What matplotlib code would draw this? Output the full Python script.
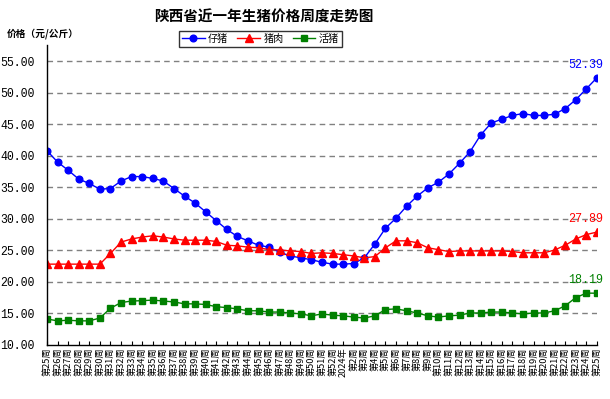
import matplotlib
matplotlib.use("Agg")
import matplotlib.pyplot as plt

plt.rcParams['font.family'] = ['Noto Sans CJK SC', 'DejaVu Sans']

weeks = ["第25周", "第26周", "第27周", "第28周", "第29周", "第30周", "第31周", "第32周",
         "第33周", "第34周", "第35周", "第36周", "第37周", "第38周", "第39周", "第40周",
         "第41周", "第42周", "第43周", "第44周", "第45周", "第46周", "第47周", "第48周",
         "第49周", "第50周", "第51周", "第52周", "2024年", "第2周", "第3周", "第4周",
         "第5周", "第6周", "第7周", "第8周", "第9周", "第10周", "第11周", "第12周",
         "第13周", "第14周", "第15周", "第16周", "第17周", "第18周", "第19周", "第20周",
         "第21周", "第22周", "第23周", "第24周", "第25周"]

piglet = [40.8, 39.0, 37.7, 36.3, 35.6, 34.7, 34.8, 36.0, 36.7, 36.7,
          36.4, 36.0, 34.8, 33.6, 32.5, 31.1, 29.7, 28.3, 27.2, 26.5,
          25.8, 25.5, 24.7, 24.1, 23.8, 23.5, 23.1, 22.8, 22.8, 22.9,
          23.8, 26.0, 28.5, 30.1, 32.0, 33.6, 34.9, 35.8, 37.1, 38.8,
          40.65, 43.3, 45.2, 45.8, 46.4, 46.7, 46.4, 46.4, 46.6, 47.5,
          48.9, 50.65, 52.39]

pork = [22.8, 22.8, 22.8, 22.8, 22.8, 22.8, 24.5, 26.3, 26.8, 27.1,
        27.3, 27.1, 26.8, 26.6, 26.6, 26.6, 26.4, 25.8, 25.7, 25.5,
        25.4, 25.1, 25.05, 24.9, 24.8, 24.5, 24.6, 24.5, 24.3, 24.1,
        23.8, 24.0, 25.4, 26.5, 26.5, 26.2, 25.4, 25.1, 24.8, 24.9,
        24.9, 24.9, 24.9, 24.9, 24.8, 24.6, 24.6, 24.6, 25.05, 25.8,
        26.8, 27.5, 27.89]

live = [14.1, 13.8, 13.9, 13.8, 13.8, 14.25, 15.8, 16.7, 16.95, 17.0,
        17.1, 16.95, 16.8, 16.5, 16.5, 16.4, 16.05, 15.9, 15.7, 15.4,
        15.4, 15.2, 15.2, 15.05, 14.9, 14.6, 14.9, 14.7, 14.6, 14.4,
        14.25, 14.6, 15.6, 15.7, 15.4, 15.05, 14.6, 14.4, 14.6, 14.7,
        15.05, 15.05, 15.2, 15.2, 15.05, 14.9, 15.05, 15.05, 15.4, 16.2,
        17.5, 18.2, 18.19]

series_names = ["仔猪", "猪肉", "活猪"]
yticks = [10, 15, 20, 25, 30, 35, 40, 45, 50, 55]

fig = plt.figure(figsize=(6.10, 3.99), dpi=100)
ax = fig.add_axes([47/610, 1-344.8/399, 550/610, (344.8-45.5)/399])

x = list(range(len(weeks)))
specs = [(piglet, '#0000FF', 'o', 4.8), (pork, '#FF0000', '^', 5.4), (live, '#008000', 's', 4.6)]
for (vals, col, mk, ms), name in zip(specs, series_names):
    ax.plot(x, vals, color=col, lw=1.0, marker=mk, ms=ms, mec=col, mfc=col, label=name)
    ax.annotate(f"{vals[-1]:.2f}", (x[-1], vals[-1]), xytext=(-11, 7),
                textcoords='offset pixels', ha='center', va='bottom',
                color=col, fontsize=8.5, family=['Liberation Mono', 'DejaVu Sans'])

ax.set_xlim(0, len(weeks)-1)
ax.set_ylim(10, 57.5)
ax.set_yticks(yticks)
ax.set_yticklabels([f"{v:.2f}" for v in yticks], family=['Liberation Mono', 'DejaVu Sans'], fontsize=8.3)
ax.set_xticks(x)
ax.set_xticklabels(weeks, rotation=90, fontsize=6.6)
ax.tick_params(axis='x', direction='in', length=3, width=0.8, pad=2)
ax.tick_params(axis='y', length=0, pad=9)

for y in yticks[1:]:
    ax.axhline(y, color='#808080', lw=1.0, ls=(0, (4, 3)), zorder=0)

for s in ['top', 'right']:
    ax.spines[s].set_visible(False)
for s in ['left', 'bottom']:
    ax.spines[s].set_color('black')
    ax.spines[s].set_linewidth(1.0)

fig.text(264/610, 1-17/399, "陕西省近一年生猪价格周度走势图", ha='center', va='center',
         fontsize=10.5, fontweight='bold')
fig.text(7/610, 1-34/399, "价格（元/公斤）", ha='left', va='center', fontsize=7, fontweight='bold')

leg = fig.legend(loc='center', bbox_to_anchor=(260.5/610, 1-39/399), ncol=3, fontsize=7.3,
                 frameon=True, fancybox=False, edgecolor='black', handlelength=2.2,
                 columnspacing=0.9, handletextpad=0.35, borderpad=0.3, borderaxespad=0)
leg.get_frame().set_linewidth(1.0)

fig.savefig("out.png", dpi=100)
